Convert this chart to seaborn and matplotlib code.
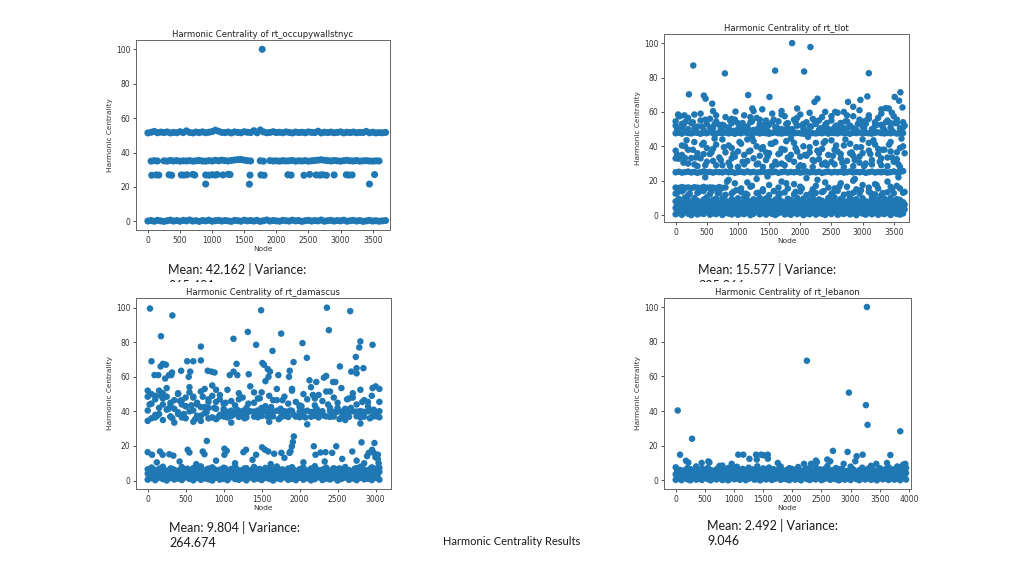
import numpy as np
import pandas as pd
import matplotlib
matplotlib.use("Agg")
import matplotlib.pyplot as plt
from matplotlib.patches import Rectangle
import seaborn as sns

nan = float("nan")

# ---------------- rt_occupywallstnyc (node step 50) ----------------
occ_band52 = [51.4,51.8,52.3,51.5,51.9,51.6,52.0,51.4,51.7,51.5,
              52.1,51.6,52.6,51.7,51.4,51.9,51.6,52.0,51.5,51.8,
              52.2,53.0,52.4,51.7,51.6,51.9,51.4,52.0,51.7,51.5,
              52.1,51.8,51.6,52.7,51.5,53.1,52.0,51.5,51.7,52.1,
              51.6,51.8,51.5,52.0,51.7,51.4,51.9,51.6,51.8,51.5,
              52.0,51.7,51.6,52.4,51.4,51.8,51.6,51.9,51.5,51.7,
              52.0,51.4,51.8,51.6,51.9,51.5,51.7,51.6,52.3,51.5,
              51.8,51.4,51.6,51.5,51.7]
occ_band35 = [35.0,35.3,35.1,nan,35.2,35.0,35.4,35.1,35.3,35.0,
              35.2,35.1,35.3,35.0,35.2,35.4,35.1,35.0,35.3,35.1,
              35.5,35.2,35.6,35.3,35.1,35.4,35.7,35.9,36.0,35.6,
              35.3,35.1,nan,nan,35.2,35.0,nan,35.3,35.1,35.2,
              35.0,35.3,35.1,35.2,35.4,35.0,35.2,35.1,35.3,35.0,
              35.2,35.4,35.6,35.8,35.5,35.3,35.1,35.4,35.2,35.0,
              35.3,35.5,35.2,35.1,35.4,35.0,35.2,35.3,35.1,35.0,
              35.2,35.1]
occ_band0 = [0.2,0.5,0.1,0.6,0.3,0.0,0.4,0.7,0.2,0.5,
             0.1,0.6,0.3,0.8,0.2,0.4,0.0,0.5,0.3,0.7,
             0.1,0.4,0.6,0.2,0.5,0.3,0.0,0.6,0.4,0.1,
             0.7,0.3,0.5,0.2,0.6,0.0,0.4,0.8,0.2,0.5,
             0.3,0.1,0.6,0.4,0.2,0.7,0.3,0.5,0.0,0.4,
             0.6,0.2,0.5,0.3,0.8,0.1,0.4,0.6,0.2,0.5,
             0.3,0.7,0.1,0.4,0.6,0.2,0.5,0.0,0.3,0.6,
             0.2,0.4,0.1,0.3,0.5]
occ_pt_nodes = [60,130,170,330,370,520,560,610,700,730,900,950,1000,1050,1080,1170,1250,1280,
                1590,1760,1810,2180,2230,2430,2520,2620,2680,2720,2780,2900,3090,3130,3180,3530,
                900,1580,3450,1780]
occ_pt_vals = [26.8,27.0,26.9,27.1,26.8,27.0,26.9,27.1,27.3,26.9,27.0,26.8,27.1,26.9,27.2,27.0,27.4,27.2,
               26.9,27.0,26.8,27.1,26.9,26.8,27.3,27.0,26.9,27.1,26.8,27.0,27.1,26.9,27.0,27.2,
               21.7,21.6,21.7,100.0]

# ---------------- rt_tlot (node step 50) ----------------
tlot_blob_a = [0.5,1.2,0.2,1.8,0.8,0.0,1.5,0.4,1.1,0.7,1.9,0.3,1.0,0.6,1.6,0.1,1.3,0.9,0.4,1.7,
               0.2,1.0,0.6,1.4,0.0,0.8,1.9,0.5,1.2,0.3,1.5,0.7,0.1,1.1,1.8,0.4,0.9,0.2,1.6,0.6,
               1.3,0.0,1.0,0.5,1.7,0.3,1.2,0.8,0.1,1.4,0.6,1.9,0.2,1.0,0.7,1.5,0.4,1.1,0.0,1.6,
               0.9,0.3,1.3,0.5,1.8,0.2,1.0,0.6,1.4,0.1,1.2,0.7,0.3,1.0]
tlot_blob_b = [4.2,3.5,5.8,3.1,6.3,4.7,3.8,5.2,4.0,6.1,3.3,5.5,4.4,3.9,6.4,4.9,3.2,5.7,4.5,3.6,
               6.0,4.1,5.3,3.4,4.8,6.2,3.7,5.0,4.3,5.9,3.5,4.6,6.3,3.9,5.1,4.2,3.3,5.6,4.7,6.0,
               3.8,5.2,4.4,3.1,6.1,4.9,3.6,5.4,4.0,5.8,3.4,4.5,6.2,3.9,5.0,4.3,3.7,5.7,4.8,3.2,
               6.0,4.1,5.3,3.6,4.6,5.9,3.8,5.1,4.4,6.3,3.5,4.9,5.5,4.0]
tlot_blob_c = [8.0,9.5,7.2,10.2,8.6,7.0,9.9,8.3,7.5,9.1,10.4,7.8,8.9,9.6,7.3,10.0,8.4,7.6,9.3,8.1,
               9.8,7.1,10.3,8.7,7.9,9.2,8.2,10.1,7.4,9.7,8.5,7.7,9.0,10.4,8.0,7.2,9.5,8.8,7.5,10.0,
               8.3,9.6,7.0,8.9,10.2,7.8,9.1,8.4,7.3,9.9,8.6,10.3,7.6,9.4,8.1,7.9,10.1,8.7,9.2,7.4,
               9.8,8.0,7.7,10.4,8.5,9.0,7.2,9.6,8.3,10.0,7.8,9.3,8.8,7.5]
tlot_blob_d = [12.5,nan,13.8,nan,11.5,nan,nan,12.9,nan,14.0,nan,12.2,nan,nan,13.1,nan,11.8,nan,12.6,nan,
               nan,13.5,nan,11.9,nan,nan,12.8,nan,13.9,nan,11.6,nan,nan,12.4,nan,13.2,nan,nan,12.0,nan,
               13.7,nan,11.7,nan,nan,12.9,nan,13.4,nan,nan,12.3,nan,14.1,nan,11.8,nan,nan,13.0,nan,12.5,
               nan,nan,13.6,nan,12.1,nan,11.5,nan,13.3,nan,12.7,nan,nan,13.0]
tlot_blob_e = [2.6,3.2,2.1,3.4,2.8,2.3,3.0,2.5,3.3,2.0,2.9,3.5,2.2,2.7,3.1,2.4,3.4,2.0,2.8,3.2,
               2.5,3.0,2.2,3.5,2.7,2.1,3.3,2.9,2.4,3.1,2.6,3.4,2.0,2.8,3.2,2.3,3.0,2.5,3.5,2.1,
               2.9,3.3,2.4,2.7,3.1,2.2,3.4,2.6,3.0,2.3,3.2,2.0,2.8,3.5,2.5,3.1,2.2,2.9,3.3,2.4,
               2.7,3.0,2.1,3.4,2.6,3.2,2.3,2.8,3.5,2.0,3.1,2.5,2.9,3.3]
tlot_blob_f = [6.2,7.0,5.6,6.8,7.4,5.9,6.5,7.2,5.7,6.9,7.5,6.1,6.6,5.5,7.1,6.3,7.3,5.8,6.7,7.0,
               6.0,7.4,5.6,6.4,7.2,6.8,5.9,7.5,6.2,6.6,5.7,7.1,6.9,6.3,7.3,5.5,6.7,7.0,6.1,7.4,
               5.8,6.5,7.2,6.0,6.8,7.5,5.6,6.4,7.1,6.2,7.3,5.9,6.9,6.6,7.0,5.7,7.4,6.3,6.8,5.5,
               7.2,6.1,6.7,7.5,5.8,6.4,7.1,6.0,6.9,7.3,5.6,6.5,7.0,6.2]
tlot_low = [16.0,15.8,16.3,15.9,16.1,15.7,16.2,16.0,15.8,16.4,15.9,16.1,16.0,15.7,16.3,15.8,16.1,20.5,nan,18.5,
            nan,15.5,nan,19.0,16.5,nan,21.0,nan,15.0,nan,17.5,nan,nan,16.0,19.5,nan,15.5,nan,18.0,nan,
            16.5,nan,21.5,nan,15.0,17.0,nan,nan,19.0,16.0,nan,15.5,nan,18.5,nan,16.5,nan,20.0,15.0,nan,
            17.5,nan,16.0,nan,18.0,15.5,nan,nan,19.5,16.5,nan,17.0,15.5,nan]
tlot_low_b = [13.0,nan,14.5,nan,12.5,nan,nan,13.5,nan,22.0,nan,14.0,nan,12.8,nan,nan,19.5,nan,13.5,14.5,
              nan,nan,12.5,nan,17.0,nan,13.0,nan,nan,22.5,nan,14.0,nan,12.5,nan,18.5,nan,nan,13.5,nan,
              15.5,nan,nan,12.8,nan,20.5,nan,14.0,nan,nan,13.0,nan,16.5,nan,nan,12.5,nan,21.0,nan,14.5,
              nan,nan,13.0,nan,17.5,nan,12.8,nan,nan,15.0,nan,22.0,nan,13.5]
tlot_band25 = [24.9,25.2,24.7,25.0,25.3,24.8,25.1,24.6,25.0,25.4,24.9,25.1,24.7,25.2,25.0,24.8,25.3,24.9,25.1,24.6,
               25.0,25.2,24.8,25.4,24.9,25.1,24.7,25.0,25.3,24.8,25.1,24.9,25.2,24.6,25.0,25.3,24.8,25.1,24.9,25.2,
               24.7,25.0,25.4,24.8,25.1,24.9,25.2,24.6,25.0,25.3,24.8,25.1,24.9,25.2,24.7,25.0,25.4,24.8,25.1,24.9,
               25.2,24.6,25.0,25.3,24.8,25.1,24.9,25.2,24.7,25.0,25.4,24.8,25.1,25.6]
tlot_mid_a = [33.0,32.8,40.5,33.2,38.0,33.1,29.5,36.0,33.0,42.0,31.0,35.5,38.5,29.0,33.5,44.0,36.5,30.5,39.0,34.0,
              28.0,41.5,35.0,31.5,37.5,43.0,29.5,34.5,39.5,32.0,36.0,28.5,42.5,35.5,30.0,38.0,33.5,44.5,31.0,37.0,
              29.0,40.0,34.5,36.5,28.0,42.0,32.5,38.5,30.5,35.0,43.5,29.5,37.0,33.0,40.5,31.5,36.0,28.5,39.5,34.0,
              44.0,30.0,37.5,32.0,41.0,35.5,29.0,38.0,33.5,42.5,31.0,36.5,28.0,40.0]
tlot_mid_b = [37.5,nan,35.0,40.0,30.0,nan,42.5,28.5,nan,35.5,39.0,nan,31.5,41.0,nan,29.0,nan,40.5,33.0,nan,
              37.0,nan,29.5,44.0,nan,33.0,40.0,nan,28.0,36.5,nan,41.5,31.0,nan,38.5,29.0,nan,35.0,42.0,nan,
              34.0,28.5,nan,39.5,32.0,nan,36.0,29.5,43.0,nan,31.0,38.0,nan,35.5,28.0,nan,41.5,34.5,nan,30.5,
              36.0,nan,42.0,29.5,nan,38.5,33.0,nan,28.5,37.0,nan,32.5,39.0,nan]
tlot_mid_c = [35.0,nan,30.5,43.5,nan,38.0,33.5,nan,41.0,29.0,nan,36.5,44.5,nan,32.0,39.5,nan,28.5,35.5,nan,
              42.5,31.0,nan,37.0,45.0,nan,30.0,38.5,nan,34.0,41.5,nan,29.5,36.0,nan,43.0,32.5,nan,39.0,28.0,
              nan,35.0,45.5,nan,31.5,37.5,nan,42.0,29.0,nan,34.5,40.5,nan,30.5,44.0,nan,36.5,32.0,nan,39.5,
              28.5,nan,35.5,43.5,nan,31.0,38.0,nan,41.0,33.5,nan,29.5,44.5,36.0]
tlot_band48 = [47.6,47.9,47.4,48.1,47.7,47.5,48.0,47.8,47.3,47.9,47.6,48.2,47.7,47.4,47.9,47.6,48.0,47.5,47.8,47.3,
               47.9,47.6,48.1,47.7,47.4,47.8,48.0,47.5,47.9,47.6,47.3,47.8,48.1,47.6,47.4,47.9,47.7,48.0,47.5,47.8,
               47.6,47.3,47.9,48.2,47.7,47.5,47.8,47.6,48.0,47.4,47.9,47.7,47.5,48.1,47.6,47.8,47.3,47.9,47.7,48.0,
               47.5,47.8,47.6,47.4,47.9,48.1,47.7,47.5,47.8,47.6,48.0,47.4,47.9,47.7]
tlot_up_a = [52.0,57.5,51.0,54.0,50.0,53.5,58.5,51.5,55.0,49.5,53.0,56.0,50.5,54.5,52.5,49.5,57.0,51.0,53.5,55.5,
             50.0,52.0,58.0,51.5,54.0,49.5,56.5,53.0,50.5,55.0,52.5,59.0,51.0,54.5,50.0,57.5,53.5,49.5,55.5,52.0,
             58.5,50.5,54.0,51.5,56.0,53.0,49.5,57.0,52.5,50.0,55.0,51.0,59.5,53.5,50.5,54.5,52.0,57.5,49.5,55.5,
             51.5,53.0,58.0,50.0,54.0,56.5,52.5,49.5,55.0,51.0,57.5,53.5,50.5,54.0]
tlot_up_b = [54.5,nan,53.0,nan,56.5,nan,50.5,nan,59.0,nan,nan,51.0,nan,58.0,nan,52.5,nan,nan,56.0,nan,
             53.5,nan,50.0,nan,57.0,nan,nan,55.5,nan,51.5,nan,54.0,nan,nan,58.5,nan,50.5,nan,nan,56.5,
             nan,53.0,nan,59.5,nan,nan,55.0,nan,51.0,nan,57.5,nan,nan,53.5,nan,58.0,nan,50.5,nan,nan,
             54.5,nan,56.0,nan,52.0,nan,59.0,nan,nan,53.5,nan,55.5,nan,51.0]
tlot_up_c = [50.0,nan,52.5,49.0,nan,54.0,50.5,nan,51.5,55.5,nan,49.5,53.0,nan,50.0,52.0,nan,55.0,49.0,nan,
             51.0,53.5,nan,49.5,54.5,nan,50.5,nan,52.5,49.0,nan,55.5,51.0,nan,49.5,53.0,nan,50.0,54.0,nan,
             52.0,49.0,nan,51.5,55.0,nan,50.5,nan,53.5,49.5,nan,52.0,50.0,nan,54.5,51.0,nan,49.0,53.0,nan,
             50.5,55.5,nan,49.5,52.5,nan,51.0,54.0,nan,49.0,53.5,nan,50.5,52.0]
tlot_pt_nodes = [283,790,1597,1869,2062,2163,3100,213,453,480,587,1164,1506,3607,3515,3585,3077,2965,2276,2228,
                 2767,2850,1950,3420,3370,3640,1230,1390,600,960,1250,2400,2560,2700,2950,3300,3470,40,70,140,1700]
tlot_pt_vals = [87,82.4,84,100,83.5,97.7,82.5,70.2,69.5,67.7,64.8,69.8,68.7,71.4,68.7,66.5,69,67,67.7,65.8,
                65.8,63,62,62,62.2,62.6,62,61.5,60.5,60.2,60.5,60,60,60,61,61.5,59.5,58.5,57.5,58,60.5]

# ---------------- rt_damascus (node step 50) ----------------
dam_blob_a = [0.5,1.3,0.2,1.7,0.8,0.0,1.4,0.6,1.1,0.3,1.8,0.9,0.1,1.5,0.4,1.2,0.7,0.0,1.6,0.5,
              1.0,0.2,1.9,0.8,0.4,1.3,0.1,1.7,0.6,1.1,0.3,1.5,0.9,0.0,1.2,0.7,1.8,0.4,1.0,0.2,
              1.6,0.5,1.3,0.1,0.8,1.9,0.3,1.1,0.6,1.4,0.0,0.9,1.7,0.4,1.2,0.2,1.5,0.7,1.0,0.3,1.6,0.5]
dam_blob_b = [4.0,3.2,5.1,3.8,4.6,3.4,5.4,4.2,3.0,4.9,3.6,5.2,4.4,3.1,4.8,3.9,5.5,4.1,3.3,5.0,
              4.5,3.7,5.3,4.0,3.2,4.7,5.1,3.5,4.3,5.4,3.8,4.6,3.0,5.2,4.1,3.6,4.9,5.5,3.4,4.4,
              3.9,5.0,4.2,3.3,5.3,4.7,3.7,5.1,4.0,3.1,4.8,5.4,3.5,4.3,5.0,3.8,4.6,3.2,5.2,4.5,3.9,5.0]
dam_blob_c = [6.5,7.5,nan,6.8,8.0,nan,7.0,6.2,nan,7.8,6.6,nan,7.2,6.0,8.2,nan,6.9,7.6,nan,6.3,
              7.4,nan,6.7,8.0,nan,6.1,7.1,nan,7.9,6.4,nan,7.3,6.8,nan,8.1,6.2,nan,7.0,7.7,nan,
              6.5,7.4,nan,6.9,8.3,nan,6.3,7.5,nan,7.1,6.6,nan,7.8,6.0,nan,7.2,8.0,6.4,nan,7.6,6.9,7.3]
dam_blob_d = [2.4,3.1,2.0,2.8,3.4,2.2,2.9,3.3,2.1,2.7,3.5,2.5,3.0,2.3,3.2,2.0,2.6,3.4,2.2,2.9,
              3.1,2.4,2.8,3.5,2.1,3.0,2.6,3.3,2.3,2.7,3.2,2.0,2.9,3.4,2.5,2.2,3.1,2.8,3.5,2.4,
              2.6,3.0,2.1,3.3,2.7,2.3,3.2,2.9,2.0,3.4,2.5,3.1,2.2,2.8,3.5,2.6,2.4,3.0,2.1,3.3,2.7]
dam_blob_e = [5.8,6.5,5.2,6.9,6.0,5.5,6.7,5.1,6.3,5.9,6.8,5.4,6.1,7.0,5.6,6.4,5.0,6.6,5.7,6.2,
              6.9,5.3,6.0,6.5,5.8,7.0,5.2,6.3,5.5,6.7,5.9,6.1,5.1,6.8,5.6,6.4,5.0,6.6,6.2,5.4,
              6.9,5.7,6.0,5.3,6.5,5.8,6.7,5.1,6.3,5.5,7.0,5.9,6.1,5.2,6.8,5.6,6.4,5.0,6.6,5.7,6.2]
dam_mid_a = [40.5,36.0,47.0,38.5,44.0,41.0,37.0,46.5,39.5,36.5,43.0,40.0,48.0,37.5,42.5,39.0,45.5,36.5,41.5,38.0,
             40.2,39.8,40.4,39.6,40.0,40.3,39.7,40.1,39.9,40.5,39.6,40.2,40.0,39.8,40.4,39.7,40.1,39.9,40.3,nan,
             39.8,40.0,40.4,39.6,40.2,39.9,40.1,nan,40.3,39.7,40.0,39.8,40.5,39.6,40.1,39.9,40.2,39.8,40.0,40.4,
             39.7,40.1]
dam_mid_b = [34.5,50.0,36.5,52.0,35.0,48.5,37.0,33.5,50.5,44.0,36.0,51.0,34.0,45.0,37.5,53.0,36.0,49.0,35.5,47.0,
             37.0,36.5,37.3,nan,36.8,37.2,36.5,nan,37.0,36.6,37.4,nan,36.9,37.1,nan,36.5,37.3,36.8,nan,37.0,
             36.6,37.2,nan,36.9,37.4,36.5,nan,37.1,36.8,37.0,nan,36.6,37.3,36.9,nan,37.2,36.5,37.0,nan,36.8,
             37.2,36.6]
dam_mid_c = [52.0,44.5,49.0,42.0,47.5,53.5,45.0,41.5,50.0,46.5,43.0,54.0,48.5,44.0,51.5,42.5,47.0,55.0,45.5,49.5,
             41.5,52.5,46.0,43.5,50.5,48.0,42.0,54.5,45.0,47.5,51.0,43.0,49.0,46.5,53.0,41.5,48.5,44.5,52.0,45.5,
             42.5,50.0,47.0,54.0,43.5,49.5,46.0,51.5,42.0,48.0,45.0,53.5,41.5,47.5,50.5,44.0,52.5,46.5,43.0,49.0,
             54.5,45.5]
dam_mid_d = [48.5,nan,38.0,nan,50.5,nan,43.5,nan,38.5,nan,48.0,nan,40.5,nan,34.5,nan,42.0,nan,52.5,nan,
             44.5,nan,33.5,nan,47.0,nan,38.5,nan,51.0,nan,42.0,nan,34.0,nan,46.5,nan,39.0,nan,53.0,nan,
             43.5,nan,32.5,nan,47.5,nan,38.0,nan,51.5,nan,42.0,nan,35.0,nan,48.0,nan,33.0,nan,45.5,nan,
             39.0,53.0]
dam_mid_e = [44.0,nan,37.5,49.0,nan,41.5,36.0,nan,46.0,38.5,nan,43.5,35.5,nan,48.5,39.5,nan,42.0,36.5,nan,
             45.0,nan,38.0,41.0,nan,36.0,44.5,nan,39.0,47.5,nan,37.0,42.5,nan,35.5,46.5,nan,40.5,38.0,nan,
             43.0,36.5,nan,49.5,41.5,nan,37.5,44.0,nan,39.5,35.5,nan,47.0,42.0,nan,38.5,45.5,nan,36.0,41.0,nan]
dam_low_nodes = [0,57,162,197,285,338,527,549,725,747,778,1010,1010,1040,1260,1295,1506,1427,1924,1911,
                 1898,1880,1867,1800,1760,1665,1587,1545,2187,2209,2275,2341,2482,2429,2693,2815,2910,2888,2954,2976,
                 2998,2985,3030,3030,3040,120,420,640,900,1150,1380,1620,2050,2330,2560,2750,2850]
dam_low_vals = [16.4,14.9,16.8,14.9,15.2,14.4,17.8,16.2,16.8,15.2,22.9,18.4,14.9,17.2,16.4,17.8,19.2,14.9,25.5,22.3,
                19.8,16.9,16.0,13.1,16.0,15.5,16.8,17.8,19.8,14.9,16.2,16.4,19.8,16.0,16.8,22.1,16.0,14.1,17.8,16.0,
                13.5,21.7,15.0,12.4,10.0,10.5,11.0,9.5,11.5,10.0,12.0,9.5,10.5,11.0,12.5,11.5,10.0]
dam_up_nodes = [30,175,325,1493,2359,2385,2666,1318,1129,1757,1427,2038,700,2800,2785,2960,2740,1643,2095,2530,
                50,200,240,170,520,600,700,1170,1510,1530,1920,2750,2840,560,320,310,440,90,140,280,
                790,840,880,1080,1130,1330,1580,1610,1870,1720,2680,2750,230,540,1180,1860,2320,2350,1550,2130,
                2220,2440,2470,2960,1590]
dam_up_vals = [99.5,83.5,95.5,98.5,100,87,98,86,82,85,78.5,79.5,77.5,80.5,77,78.5,71.5,75,71,66,
               69,67.5,67,66,69,69,69.5,67.5,68,67,68.5,65,65,63,62.5,61,63.5,61,61,61,
               63.5,63,62.5,61,63,61.5,64.5,63,63.5,61,63,62,59,60,61,60,59.5,60.5,57.5,58,
               57,57,57,53.5,60]

# ---------------- rt_lebanon (node step 50) ----------------
leb_blob_a = [0.3,1.0,0.1,1.4,0.6,0.0,1.2,0.4,0.9,0.2,1.5,0.7,0.0,1.1,0.5,1.3,0.2,0.8,0.0,1.4,
              0.6,1.0,0.3,1.2,0.1,0.9,1.5,0.4,0.7,0.0,1.1,0.5,1.3,0.2,0.8,1.4,0.3,1.0,0.6,0.1,
              1.2,0.4,0.9,0.0,1.5,0.7,0.2,1.1,0.5,1.3,0.1,0.8,1.4,0.3,1.0,0.6,0.0,1.2,0.4,0.9,
              0.2,1.5,0.7,0.1,1.1,0.5,1.3,0.3,0.8,0.0,1.4,0.6,1.0,0.2,1.2,0.4,0.9,0.1,1.3,0.5]
leb_blob_b = [3.5,2.8,4.6,3.1,4.2,2.6,4.9,3.7,3.0,4.4,2.7,4.8,3.3,4.0,2.9,4.5,3.6,2.5,4.7,3.2,
              4.1,2.8,4.9,3.4,3.9,2.6,4.3,3.1,4.8,3.7,2.9,4.5,3.3,4.0,2.7,4.6,3.5,3.0,4.9,3.8,
              2.6,4.2,3.4,4.7,2.8,4.0,3.6,3.1,4.5,2.9,4.8,3.3,3.9,2.7,4.4,3.6,3.0,4.6,3.2,4.1,
              2.8,4.9,3.5,3.8,2.6,4.3,3.1,4.7,3.4,2.9,4.5,3.7,4.0,2.7,4.8,3.3,3.9,4.4,3.0,4.2]
leb_blob_c = [7.5,6.0,nan,5.8,7.0,6.5,nan,8.0,5.5,6.8,nan,7.2,5.9,nan,6.4,8.3,nan,5.6,7.1,6.2,
              nan,7.8,5.7,6.6,nan,7.3,6.0,nan,8.1,5.5,6.9,nan,7.4,5.8,nan,6.3,8.0,nan,5.9,7.0,
              6.5,nan,7.7,5.6,nan,6.8,6.1,nan,7.5,5.7,nan,6.4,8.2,nan,5.9,7.1,nan,6.6,5.5,nan,
              7.9,6.2,nan,5.8,7.3,nan,6.7,8.4,nan,5.6,7.0,nan,6.3,7.6,nan,5.9,8.0,6.5,nan,7.2]
leb_blob_d = [2.0,2.6,1.7,2.9,2.3,1.5,2.8,2.1,2.5,1.8,3.0,2.2,1.6,2.7,2.4,1.9,2.9,2.0,2.6,1.5,
              2.3,2.8,1.7,2.5,2.1,3.0,1.8,2.4,2.7,1.6,2.2,2.9,2.0,1.5,2.6,2.3,2.8,1.9,2.5,1.7,
              3.0,2.1,2.4,1.6,2.7,2.2,1.8,2.9,2.0,2.5,1.5,2.8,2.3,1.9,2.6,2.1,3.0,1.7,2.4,2.2,
              2.7,1.6,2.9,2.0,2.5,1.8,2.3,2.8,1.5,2.6,2.1,2.9,1.7,2.4,2.0,2.7,1.9,2.5,2.2]
leb_blob_e = [5.2,6.0,4.7,5.6,6.3,4.9,5.4,6.1,4.6,5.8,6.4,5.0,5.5,4.8,6.2,5.3,5.9,4.5,5.7,6.5,
              5.1,4.7,6.0,5.4,5.8,4.9,6.3,5.2,4.6,5.6,6.1,5.0,5.5,6.4,4.8,5.3,5.9,4.5,6.2,5.7,
              5.1,6.0,4.7,5.4,6.5,5.0,5.8,4.9,5.6,6.3,4.6,5.2,6.1,5.5,4.8,5.9,6.4,5.3,4.5,5.7,
              6.0,5.1,4.7,6.2,5.4,5.8,4.9,6.5,5.2,5.6,4.6,6.1,5.0,5.5,6.3,4.8,5.9,5.3,5.7]
leb_pt_nodes = [34,280,74,1073,1159,1378,1464,1504,1579,1390,1580,1264,2696,2948,3103,3206,3681,176,216,560,
                578,445,1750,2404,2420,2650,2600,3440,3623,3937,3900,2249,2970,3262,3290,3851,3279,2200,2320,2880,
                3080,960,800]
leb_pt_vals = [40.3,24,14.8,14.8,14.8,14.8,14.8,14.5,14.8,12.0,12.5,12.4,17.0,16.4,13.9,14.8,14.6,11.3,10.2,10.9,
               10.3,10.0,10.0,11.4,10.5,11.0,12.0,9.5,10.0,9.5,9.0,69,50.6,43.4,32,28.3,100,9.5,9.5,9.5,
               11.0,9.5,8.5]

titles = ["Harmonic Centrality of rt_occupywallstnyc", "Harmonic Centrality of rt_tlot",
          "Harmonic Centrality of rt_damascus", "Harmonic Centrality of rt_lebanon"]
stats_first = ["Mean: 42.162 | Variance:", "Mean: 15.577 | Variance:",
               "Mean: 9.804 | Variance:", "Mean: 2.492 | Variance:"]
stats_second = ["265.481", "325.366", "264.674", "9.046"]
footer = "Harmonic Centrality Results"
NODE_STEP = 50


def build(sampled, points):
    """sampled: list of (first_node, y_list) read per sampled node; points: (nodes, values)."""
    frames = []
    for first, ys in sampled:
        ys = np.asarray(ys, dtype=float)
        frames.append(pd.DataFrame({"Node": first + NODE_STEP * np.arange(len(ys)), "HC": ys}))
    for nodes, vals in points:
        frames.append(pd.DataFrame({"Node": np.asarray(nodes, float), "HC": np.asarray(vals, float)}))
    return pd.concat(frames, ignore_index=True).dropna()


df_occ = build([(0, occ_band52), (50, occ_band35), (0, occ_band0)], [(occ_pt_nodes, occ_pt_vals)])
df_tlot = build([(0, tlot_blob_a), (0, tlot_blob_b), (0, tlot_blob_c), (0, tlot_blob_d),
                 (25, tlot_blob_e), (25, tlot_blob_f), (0, tlot_low), (25, tlot_low_b),
                 (0, tlot_band25), (0, tlot_mid_a), (0, tlot_mid_b), (25, tlot_mid_c),
                 (0, tlot_band48), (0, tlot_up_a), (0, tlot_up_b), (25, tlot_up_c)],
                [(tlot_pt_nodes, tlot_pt_vals)])
df_dam = build([(0, dam_blob_a), (0, dam_blob_b), (0, dam_blob_c), (25, dam_blob_d), (25, dam_blob_e),
                (0, dam_mid_a), (0, dam_mid_b), (0, dam_mid_c), (0, dam_mid_d), (25, dam_mid_e)],
               [(dam_low_nodes, dam_low_vals), (dam_up_nodes, dam_up_vals)])
df_leb = build([(0, leb_blob_a), (0, leb_blob_b), (0, leb_blob_c), (25, leb_blob_d), (25, leb_blob_e)],
               [(leb_pt_nodes, leb_pt_vals)])

sns.set_theme(style="white")
plt.rcParams["font.family"] = ["DejaVu Sans"]

W, H = 1024, 576
fig = plt.figure(figsize=(W / 100, H / 100), dpi=100)
fig.patch.set_facecolor("white")

panels = [
    (df_occ, [136, 40, 390, 230], (-185, 3770), (-5, 105.4), np.arange(0, 3501, 500), 26),
    (df_tlot, [664, 34, 909, 222], (-187, 3745), (-4, 105.3), np.arange(0, 3501, 500), 22),
    (df_dam, [136, 298, 391, 489], (-154, 3203), (-4.9, 105.6), np.arange(0, 3001, 500), 22),
    (df_leb, [664, 298, 911, 489], (-201, 4035), (-5, 105.2), np.arange(0, 4001, 500), 22),
]

for i, (df, box, xl, yl, xt, size) in enumerate(panels):
    l, t, r, b = box
    ax = fig.add_axes([l / W, 1 - b / H, (r - l) / W, (b - t) / H])
    ax.set_zorder(3)
    sns.scatterplot(data=df, x="Node", y="HC", ax=ax, s=size, color="#1f77b4",
                    linewidth=0, edgecolor="none", legend=False)
    ax.set_xlim(*xl)
    ax.set_ylim(*yl)
    ax.set_xticks(xt)
    ax.set_yticks(np.arange(0, 101, 20))
    ax.set_title(titles[i], fontsize=6.1, pad=2.5, color="#222222")
    ax.set_xlabel("Node", fontsize=5.4, labelpad=1, color="#333333")
    ax.set_ylabel("Harmonic Centrality", fontsize=5.3, labelpad=2, color="#333333")
    ax.tick_params(axis="both", labelsize=5.5, length=2.5, width=0.6, colors="#333333",
                   direction="out", bottom=True, left=True, pad=1.5)
    for sp in ax.spines.values():
        sp.set_color("#666666")
        sp.set_linewidth(0.7)

# statistics text under each chart
stat_pos = [(168, 274, 290), (698, 274, 290), (169, 531.5, 547), (707, 530, 545)]
for (x, y1, y2), s1, s2 in zip(stat_pos, stats_first, stats_second):
    fig.text(x / W, 1 - y1 / H, s1, fontsize=9, family=["Lato", "DejaVu Sans"],
             color="#1a1a1a", va="baseline", ha="left", zorder=1)
    fig.text(x / W, 1 - y2 / H, s2, fontsize=9, family=["Lato", "DejaVu Sans"],
             color="#1a1a1a", va="baseline", ha="left", zorder=1)

# lower chart images overlap the second line of the upper statistics
for x0 in (150, 680):
    fig.add_artist(Rectangle((x0 / W, 1 - 298 / H), 200 / W, 16 / H, transform=fig.transFigure,
                             facecolor="white", edgecolor="none", zorder=2))

fig.text(512 / W, 1 - 545 / H, footer, fontsize=8, family=["Lato", "DejaVu Sans"],
         color="#1a1a1a", va="baseline", ha="center", zorder=1)

fig.savefig("out.png", dpi=100, facecolor="white")
